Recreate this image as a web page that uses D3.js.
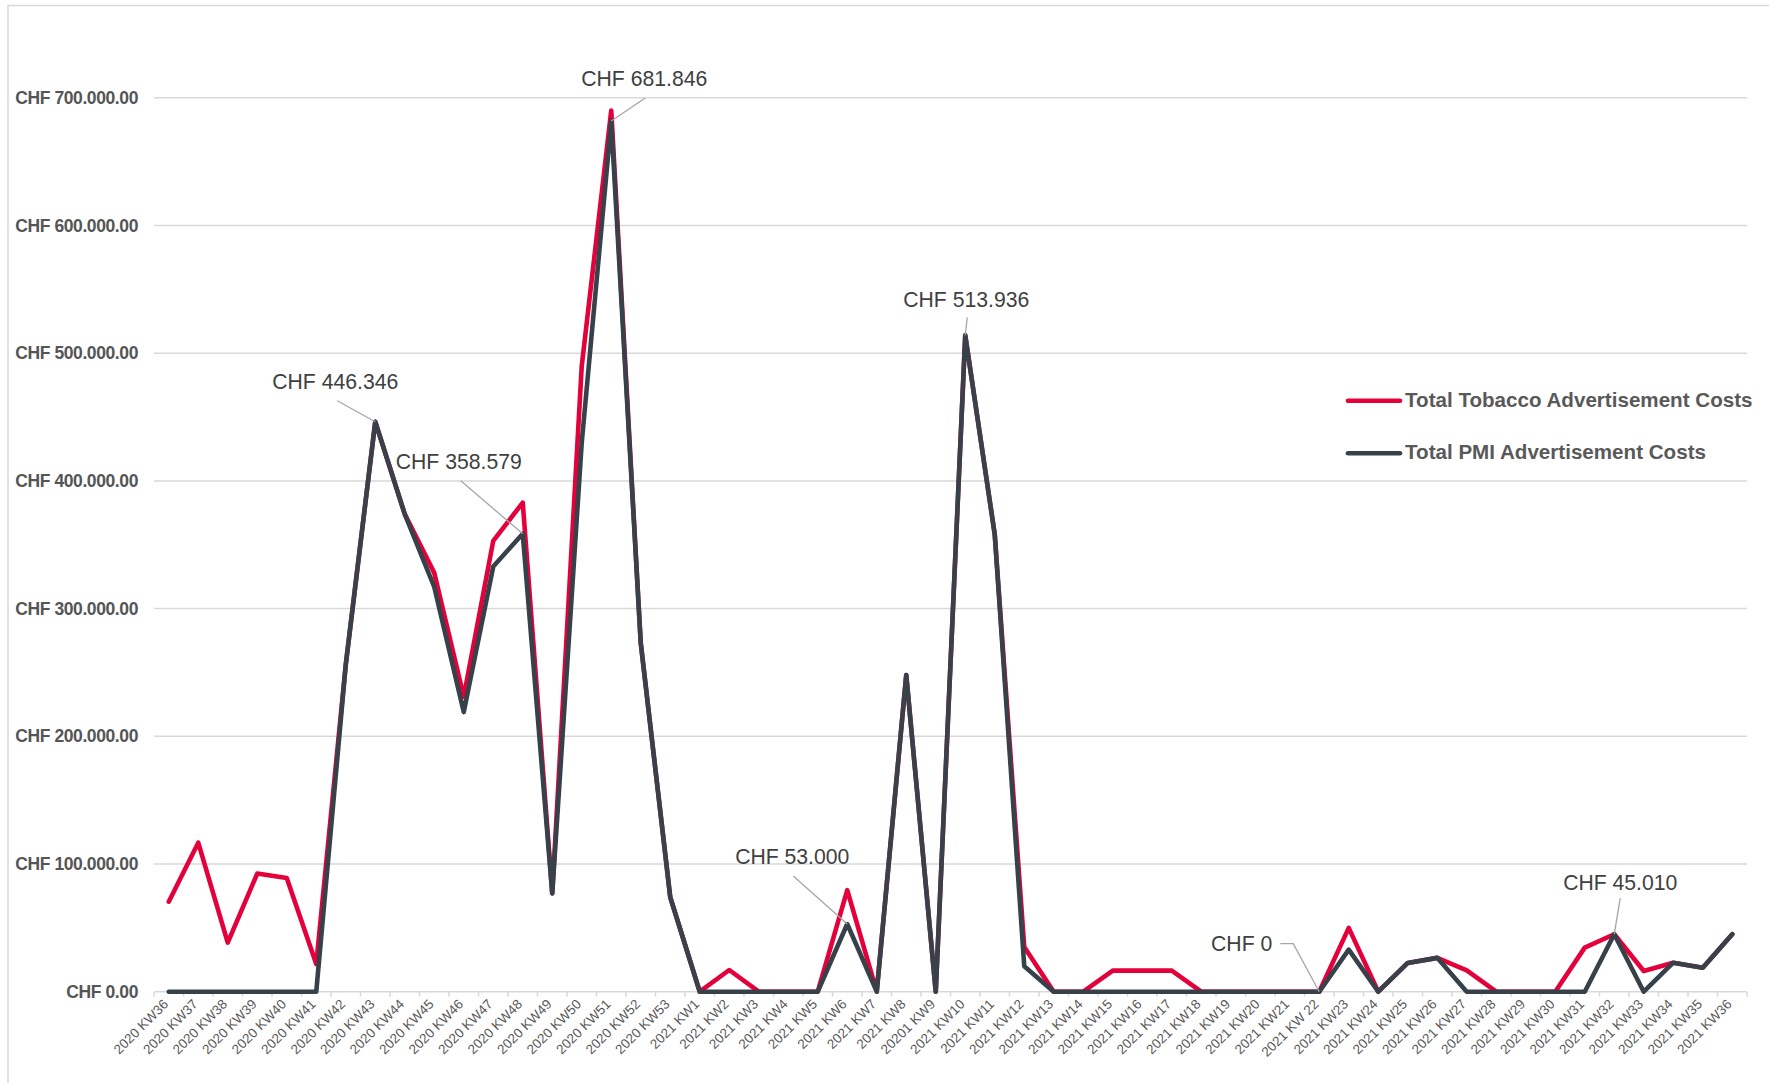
<!DOCTYPE html>
<html>
<head>
<meta charset="utf-8">
<script src="https://cdn.jsdelivr.net/npm/d3@7/dist/d3.min.js"></script>
<style>
  html, body { margin: 0; padding: 0; background: #ffffff; }
  svg { display: block; }
</style>
</head>
<body>
<svg id="chart" width="1769" height="1083"></svg>
<script>
// Weekly categories (calendar week labels as printed on the axis)
const weeks = [
  "2020 KW36","2020 KW37","2020 KW38","2020 KW39","2020 KW40","2020 KW41","2020 KW42",
  "2020 KW43","2020 KW44","2020 KW45","2020 KW46","2020 KW47","2020 KW48","2020 KW49",
  "2020 KW50","2020 KW51","2020 KW52","2020 KW53",
  "2021 KW1","2021 KW2","2021 KW3","2021 KW4","2021 KW5","2021 KW6","2021 KW7","2021 KW8",
  "20201 KW9","2021 KW10","2021 KW11","2021 KW12","2021 KW13","2021 KW14","2021 KW15",
  "2021 KW16","2021 KW17","2021 KW18","2021 KW19","2021 KW20","2021 KW21","2021 KW 22",
  "2021 KW23","2021 KW24","2021 KW25","2021 KW26","2021 KW27","2021 KW28","2021 KW29",
  "2021 KW30","2021 KW31","2021 KW32","2021 KW33","2021 KW34","2021 KW35","2021 KW36"
];

// Total tobacco advertisement costs per week (CHF)
const tobaccoCosts = [
  70500, 116700, 38400, 92500, 89000, 21700, 256000,
  446346, 374000, 328000, 231000, 353000, 383000, 77000,
  490000, 690000, 273000, 74000,
  0, 17000, 0, 0, 0, 79500, 0, 248000,
  0, 513936, 358000, 35000, 0, 0, 16500,
  16500, 16500, 0, 0, 0, 0, 0,
  50000, 0, 22500, 26500, 16700, 0, 0,
  0, 34500, 45010, 16200, 22700, 18800, 45000
];

// Total PMI advertisement costs per week (CHF)
const pmiCosts = [
  0, 0, 0, 0, 0, 0, 256000,
  446346, 374000, 317000, 219000, 333000, 358579, 77000,
  430000, 681846, 273000, 74000,
  0, 0, 0, 0, 0, 53000, 0, 248000,
  0, 513936, 358000, 20000, 0, 0, 0,
  0, 0, 0, 0, 0, 0, 0,
  33000, 0, 22500, 26500, 0, 0, 0,
  0, 0, 45010, 0, 22700, 18800, 45000
];

const yTickValues = [0, 100000, 200000, 300000, 400000, 500000, 600000, 700000];

const seriesNames = ["Total Tobacco Advertisement Costs", "Total PMI Advertisement Costs"];

// Callouts on the PMI series: week and label placement relative to the point
const callouts = [
  { week: "2020 KW43", tx: -40, ty: -40, lx: -38, ly: -21, anchor: "middle" },
  { week: "2020 KW48", tx: -64, ty: -72, lx: -62, ly: -53, anchor: "middle" },
  { week: "2020 KW51", tx: 33,  ty: -42, lx: 34,  ly: -23, anchor: "middle" },
  { week: "2021 KW10", tx: 1,   ty: -36, lx: 2,   ly: -18, anchor: "middle" },
  { week: "2021 KW6",  tx: -55, ty: -67, lx: -54, ly: -48, anchor: "middle" },
  { week: "2021 KW 22",tx: -47, ty: -48, lx: -39, ly: -48, anchor: "end", elbow: -26 },
  { week: "2021 KW32", tx: 6,   ty: -52, lx: 6,   ly: -36, anchor: "middle" }
];

const colors = { tobacco: "#E4003B", pmi: "#36414A" };

const svg = d3.select("#chart");

// outer frame of the chart area
svg.append("rect")
  .attr("x", 8).attr("y", 5.5)
  .attr("width", 1800).attr("height", 1100)
  .attr("fill", "none").attr("stroke", "#d9d9d9").attr("stroke-width", 1.5);

const plot = { left: 154, right: 1747, top: 97.8, bottom: 991.7 };

const x = d3.scaleBand().domain(weeks).range([plot.left, plot.right]).padding(0);
const y = d3.scaleLinear().domain([0, 700000]).range([plot.bottom, plot.top]);
const cx = d => x(d) + x.bandwidth() / 2;

const thousands = v => d3.format(",")(v).replace(/,/g, ".");
const yLabel = v => v === 0 ? "CHF 0.00" : "CHF " + thousands(v) + ".00";

// horizontal gridlines
svg.append("g").selectAll("line")
  .data(yTickValues.filter(v => v > 0))
  .join("line")
  .attr("x1", plot.left).attr("x2", plot.right)
  .attr("y1", d => y(d)).attr("y2", d => y(d))
  .attr("stroke", "#d9d9d9").attr("stroke-width", 1.5);

// y axis labels
const yAxis = svg.append("g")
  .attr("transform", `translate(${plot.left - 16},0)`)
  .call(d3.axisLeft(y).tickValues(yTickValues).tickSize(0).tickPadding(0).tickFormat(yLabel));
yAxis.select(".domain").remove();
yAxis.selectAll("text")
  .attr("font-family", "'Liberation Sans', Arial, sans-serif")
  .attr("font-weight", 700)
  .attr("font-size", 17.5)
  .attr("letter-spacing", -0.4)
  .attr("fill", "#555555");

// category axis baseline and boundary ticks
svg.append("line")
  .attr("x1", plot.left).attr("x2", plot.right)
  .attr("y1", plot.bottom).attr("y2", plot.bottom)
  .attr("stroke", "#d9d9d9").attr("stroke-width", 1.5);
svg.append("g").selectAll("line")
  .data(d3.range(weeks.length + 1))
  .join("line")
  .attr("x1", i => plot.left + i * x.step()).attr("x2", i => plot.left + i * x.step())
  .attr("y1", plot.bottom).attr("y2", plot.bottom + 5)
  .attr("stroke", "#d9d9d9").attr("stroke-width", 1.5);

// x axis labels, rotated
const xAxis = svg.append("g")
  .attr("transform", `translate(0,${plot.bottom})`)
  .call(d3.axisBottom(x).tickSize(0).tickPadding(0));
xAxis.select(".domain").remove();
xAxis.selectAll("text")
  .attr("font-family", "'Liberation Sans', Arial, sans-serif")
  .attr("font-size", 13.5)
  .attr("fill", "#595959")
  .attr("text-anchor", "end")
  .attr("dy", "0.35em")
  .attr("transform", "translate(-3,10) rotate(-45)");

// series lines
const line = values => d3.line()
  .x((d, i) => cx(weeks[i]))
  .y(d => y(d))(values);

svg.append("path")
  .attr("d", line(tobaccoCosts))
  .attr("fill", "none").attr("stroke", colors.tobacco)
  .attr("stroke-width", 4.6).attr("stroke-linejoin", "round").attr("stroke-linecap", "round");
svg.append("path")
  .attr("d", line(pmiCosts))
  .attr("fill", "none").attr("stroke", colors.pmi)
  .attr("stroke-width", 4.6).attr("stroke-linejoin", "round").attr("stroke-linecap", "round");

// callouts
const cg = svg.append("g");
callouts.forEach(c => {
  const idx = weeks.indexOf(c.week);
  const v = pmiCosts[idx];
  const px = cx(c.week), py = y(v);
  const pts = [[px + c.lx, py + c.ly]];
  if (c.elbow !== undefined) pts.push([px + c.elbow, py + c.ly]);
  pts.push([px, py]);
  cg.append("path")
    .attr("d", d3.line()(pts))
    .attr("fill", "none").attr("stroke", "#a6a6a6").attr("stroke-width", 1.3);
  cg.append("text")
    .attr("x", px + c.tx).attr("y", py + c.ty)
    .attr("dy", "0.35em")
    .attr("text-anchor", c.anchor)
    .attr("font-family", "'Liberation Sans', Arial, sans-serif")
    .attr("font-size", 21.2)
    .attr("fill", "#404040")
    .text("CHF " + thousands(v));
});

// legend
const legend = svg.append("g");
[[seriesNames[0], colors.tobacco, 400.7], [seriesNames[1], colors.pmi, 453.3]].forEach(([name, col, ly]) => {
  legend.append("line")
    .attr("x1", 1348).attr("x2", 1400).attr("y1", ly).attr("y2", ly)
    .attr("stroke", col).attr("stroke-width", 4.6).attr("stroke-linecap", "round");
  legend.append("text")
    .attr("x", 1405).attr("y", ly).attr("dy", "0.3em")
    .attr("font-family", "'Liberation Sans', Arial, sans-serif")
    .attr("font-weight", 700)
    .attr("font-size", 20.6)
    .attr("fill", "#595959")
    .text(name);
});
</script>
</body>
</html>
